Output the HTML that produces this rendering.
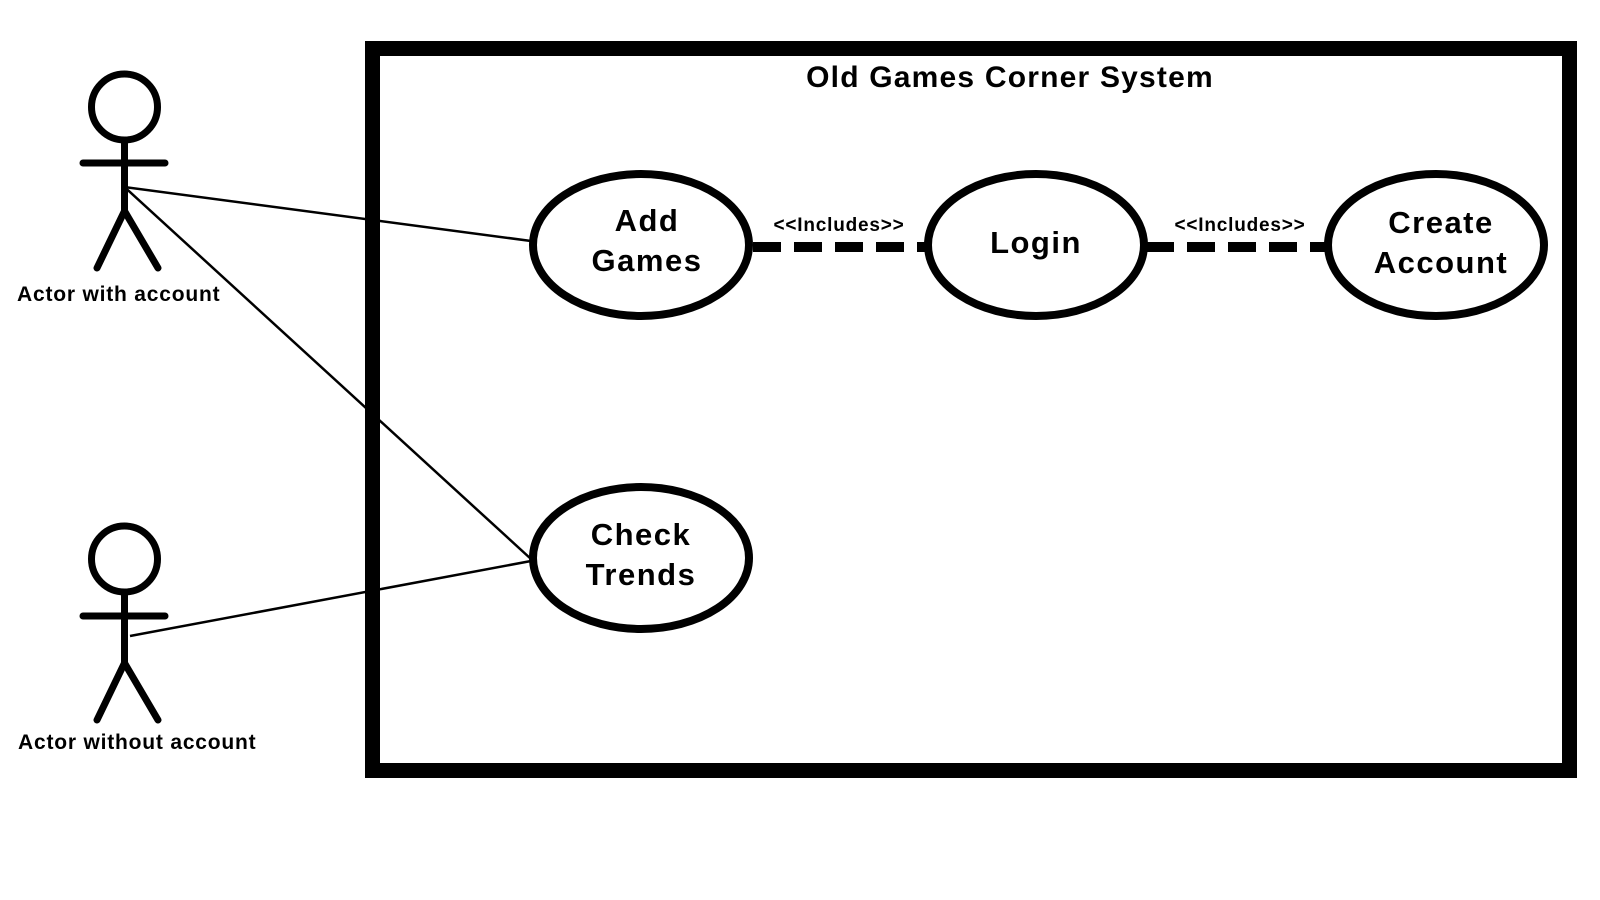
<!DOCTYPE html>
<html><head><style>
body{margin:0;background:#fff;}
svg{display:block;}
text{font-family:"Liberation Sans",sans-serif;fill:#000;font-weight:bold;}
</style></head><body>
<svg width="1600" height="900" viewBox="0 0 1600 900" xmlns="http://www.w3.org/2000/svg">
<rect x="372.5" y="48.5" width="1197" height="722" fill="none" stroke="#000" stroke-width="15"/>
<text x="1010" y="87" font-size="30" text-anchor="middle" letter-spacing="1.2">Old Games Corner System</text>
<g stroke="#000" stroke-width="2.5" fill="none">
<line x1="124.5" y1="187" x2="531" y2="241"/>
<line x1="124.5" y1="187" x2="531" y2="559"/>
<line x1="130" y1="636" x2="531" y2="561"/>
</g>
<g stroke="#000" stroke-width="10" stroke-dasharray="28 13">
<line x1="753" y1="247" x2="927" y2="247"/>
<line x1="1146" y1="247" x2="1330" y2="247"/>
</g>
<text x="839" y="231" font-size="19" text-anchor="middle" letter-spacing="0.8">&lt;&lt;Includes&gt;&gt;</text>
<text x="1240" y="231" font-size="19" text-anchor="middle" letter-spacing="0.8">&lt;&lt;Includes&gt;&gt;</text>
<g stroke="#000" stroke-width="8" fill="#fff">
<ellipse cx="641" cy="245" rx="108" ry="71"/>
<ellipse cx="1036" cy="245" rx="108" ry="71"/>
<ellipse cx="1436" cy="245" rx="108" ry="71"/>
<ellipse cx="641" cy="558" rx="108" ry="71"/>
</g>
<g font-size="31" text-anchor="middle" letter-spacing="1.5">
<text x="647" y="231">Add</text><text x="647" y="271">Games</text>
<text x="1036" y="253">Login</text>
<text x="1441" y="233">Create</text><text x="1441" y="273">Account</text>
<text x="641" y="545">Check</text><text x="641" y="585">Trends</text>
</g>
<g stroke="#000" stroke-width="7" fill="none" stroke-linecap="round">
<circle cx="124.5" cy="107" r="33"/>
<line x1="124.5" y1="140" x2="124.5" y2="211"/>
<line x1="83" y1="163" x2="165" y2="163"/>
<line x1="124.5" y1="211" x2="97" y2="268"/>
<line x1="124.5" y1="211" x2="158" y2="268"/>
<circle cx="124.5" cy="559" r="33"/>
<line x1="124.5" y1="592" x2="124.5" y2="663"/>
<line x1="83" y1="616" x2="165" y2="616"/>
<line x1="124.5" y1="663" x2="97" y2="720"/>
<line x1="124.5" y1="663" x2="158" y2="720"/>
</g>
<text x="17" y="301" font-size="21" letter-spacing="0.8">Actor with account</text>
<text x="18" y="749" font-size="21" letter-spacing="0.8">Actor without account</text>
</svg>
</body></html>
